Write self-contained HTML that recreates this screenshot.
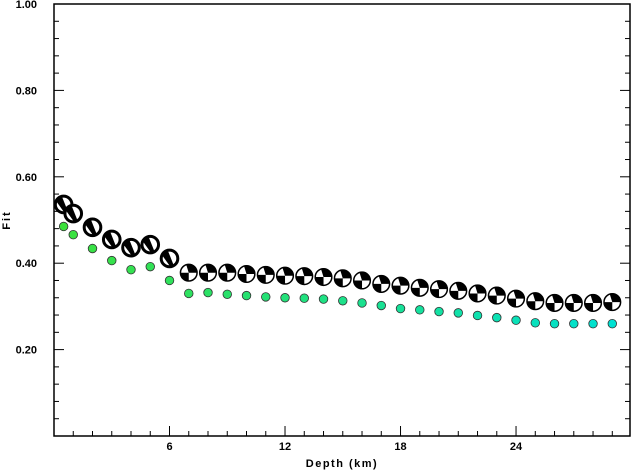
<!DOCTYPE html>
<html><head><meta charset="utf-8"><style>
body{margin:0;background:#fff}
svg text{font-family:"Liberation Sans",sans-serif;font-weight:bold;font-size:11px;fill:#000}
</style></head><body>
<svg id="chart" width="631" height="471" viewBox="0 0 631 471" xmlns="http://www.w3.org/2000/svg">
<g id="axes"></g><g id="marks"></g>
</svg>
<script>
const depths=[0.5,1,2,3,4,5,6,7,8,9,10,11,12,13,14,15,16,17,18,19,20,21,22,23,24,25,26,27,28,29];
const fitMech=[0.536,0.515,0.483,0.455,0.436,0.443,0.411,0.378,0.378,0.378,0.375,0.373,0.371,0.37,0.368,0.365,0.36,0.352,0.348,0.343,0.34,0.336,0.33,0.325,0.318,0.312,0.308,0.308,0.308,0.31];
const fitDot=[0.485,0.466,0.434,0.406,0.385,0.392,0.36,0.33,0.332,0.328,0.325,0.322,0.32,0.319,0.317,0.313,0.308,0.302,0.295,0.292,0.288,0.285,0.279,0.274,0.268,0.262,0.26,0.26,0.26,0.26];
const xTicks=[6,12,18,24];
const yTicks=[0.2,0.4,0.6,0.8,1.0];
const yLabels=["0.20","0.40","0.60","0.80","1.00"];
const L=54,R=630,T=4,B=436,XMAX=29.92;
const sx=d=>L+d/XMAX*(R-L);
const sy=v=>B-v*(B-T);
const NS="http://www.w3.org/2000/svg";
function mk(tag,at,parent){const e=document.createElementNS(NS,tag);for(const k in at)e.setAttribute(k,at[k]);parent.appendChild(e);return e;}
const ax=document.getElementById('axes'),mg=document.getElementById('marks');
const frame=mk('rect',{x:L,y:T,width:R-L,height:B-T,fill:'none',stroke:'#000','stroke-width':1.5},ax);


for(let d=1;d<30;d++){const big=d%6===0;
const t=mk('line',{x1:sx(d),x2:sx(d),y1:B,y2:B-(big?10:5),stroke:'#000'},ax);

}
for(let i=1;i<25;i++){const v=i*0.04;const big=Math.abs(v*5-Math.round(v*5))<1e-6;
[[L,L+(big?10:5)],[R,R-(big?10:5)]].forEach(([a,b])=>{const t=mk('line',{x1:a,x2:b,y1:sy(v),y2:sy(v),stroke:'#000'},ax);

});}
xTicks.forEach(d=>{const t=mk('text',{x:sx(d),y:450,'text-anchor':'middle'},ax);t.textContent=d;

});
yTicks.forEach((v,i)=>{const t=mk('text',{x:37,y:sy(v)+4,'text-anchor':'end'},ax);t.textContent=yLabels[i];

});
const xt=mk('text',{x:342,y:467,'text-anchor':'middle','font-size':'12px','letter-spacing':'1.5'},ax);xt.textContent='Depth (km)';


const yt=mk('text',{x:0,y:0,'text-anchor':'middle','font-size':'12px','letter-spacing':'2',transform:'translate(10,220) rotate(-90)'},ax);yt.textContent='Fit';


depths.forEach((d,i)=>{
 const f=i/(depths.length-1);
 const c=`rgb(${Math.round(60*(1-f))},${Math.round(225)},${Math.round(60+150*f)})`;
 const dot=mk('circle',{cx:sx(d),cy:sy(fitDot[i]),r:4.3,fill:c,stroke:'#333','stroke-width':0.8},mg);
 
 
 const g=mk('g',{transform:`translate(${sx(d)},${sy(fitMech[i])})`},mg);
 
 
 const r=8.3;
 if(d<=6.5){
  mk('circle',{r:r,fill:'#fff',stroke:'#000','stroke-width':3},g);
  mk('path',{d:`M${-r*0.9},${-r*0.4} A${r},${r} 0 0 1 ${-r*0.2},${-r*0.95} L${r*0.5},${r*0.8} A${r},${r} 0 0 1 ${r*0.1},${r} Z`,fill:'#000'},g);
 }else{
  mk('circle',{r:r,fill:'#000',stroke:'#000','stroke-width':1},g);
  mk('path',{d:`M0,0 L${r},0 A${r},${r} 0 0 1 0,${r} Z`,fill:'#fff'},g);
  mk('path',{d:`M0,0 L${-r},0 A${r},${r} 0 0 1 ${-r*0.3},${-r*0.95} Z`,fill:'#fff'},g);
  mk('circle',{r:r,fill:'none',stroke:'#000','stroke-width':1.5},g);
 }
});
</script>
</body></html>
